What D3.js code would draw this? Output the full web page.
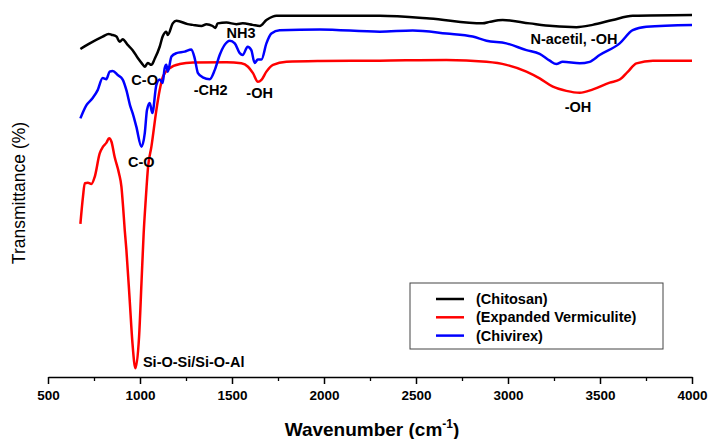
<!DOCTYPE html>
<html>
<head>
<meta charset="utf-8">
<script src="https://cdn.jsdelivr.net/npm/d3@7"></script>
<style>
    body { margin: 0; background: #fff; }
    svg { font-family: Arial, "Liberation Sans", sans-serif; }
</style>
</head>
<body>
<div id="chart"></div>
<script>

// spectra: [wavenumber, transmittance (arbitrary units)]
var chitosan = [
    [676, 87.0], [727, 88.5], [797, 90.3], [830, 91.0], [845, 90.8], [872, 90.3],
    [890, 88.9], [906, 89.6], [933, 88.1], [960, 86.7], [988, 84.6], [1010, 83.2],
    [1026, 82.3], [1042, 83.3], [1062, 82.8], [1080, 84.4], [1107, 87.6], [1123, 90.3],
    [1143, 91.6], [1151, 90.7], [1178, 93.8], [1198, 94.5], [1259, 93.6], [1286, 93.4],
    [1334, 93.1], [1361, 93.6], [1395, 93.1], [1410, 92.6], [1422, 93.8], [1470, 94.0],
    [1524, 93.6], [1558, 93.8], [1612, 93.4], [1651, 93.1], [1687, 94.7], [1721, 95.6],
    [1741, 95.8], [1977, 95.8], [2303, 95.8], [2574, 95.1], [2862, 93.8], [2900, 94.2],
    [2971, 94.7], [3118, 93.8], [3243, 93.1], [3372, 92.8], [3460, 93.4], [3569, 94.7],
    [3678, 95.8], [4000, 96.0]
];

var vermiculite = [
    [676, 40.6], [690, 47.8], [700, 51.4], [717, 51.5], [736, 51.2], [754, 53.1],
    [781, 59.3], [799, 61.1], [817, 62.1], [832, 63.3], [845, 62.4], [862, 58.4],
    [886, 54.0], [899, 50.5], [908, 45.2], [917, 39.0], [926, 33.7], [944, 20.4],
    [959, 9.0], [975, 2.3], [995, 10.7], [1008, 24.9], [1020, 38.2], [1031, 46.9],
    [1044, 55.8], [1062, 61.1], [1089, 70.8], [1107, 76.1], [1125, 79.7], [1161, 81.9],
    [1216, 83.0], [1288, 83.4], [1470, 83.5], [1551, 83.2], [1587, 82.3], [1614, 80.6],
    [1641, 78.3], [1660, 78.8], [1687, 81.0], [1723, 82.8], [1796, 83.6], [1977, 83.8],
    [2303, 83.9], [2665, 84.1], [2883, 83.6], [2991, 82.8], [3100, 81.0], [3172, 79.2],
    [3244, 77.0], [3317, 75.9], [3390, 75.4], [3462, 76.3], [3553, 78.1], [3607, 78.9],
    [3652, 81.0], [3698, 83.2], [3788, 83.9], [4000, 83.9]
];

var chivirex = [
    [676, 68.6], [709, 72.1], [743, 74.0], [770, 76.1], [797, 79.3], [817, 79.0],
    [835, 81.0], [852, 81.2], [879, 80.1], [906, 78.9], [926, 76.1], [948, 71.7],
    [960, 70.0], [980, 66.4], [1008, 61.1], [1026, 64.7], [1038, 70.8], [1053, 72.7],
    [1067, 70.0], [1089, 77.5], [1107, 78.9], [1123, 78.0], [1134, 81.9], [1143, 82.8],
    [1151, 81.0], [1171, 85.0], [1198, 85.9], [1243, 86.3], [1279, 86.9], [1297, 84.6],
    [1315, 80.6], [1341, 79.5], [1379, 79.0], [1406, 81.4], [1433, 85.4], [1460, 88.1],
    [1488, 89.2], [1515, 88.5], [1542, 85.9], [1558, 85.4], [1585, 87.6], [1605, 86.7],
    [1623, 83.3], [1640, 84.2], [1660, 84.2], [1687, 88.5], [1714, 91.1], [1759, 92.0],
    [1977, 92.2], [2303, 91.6], [2482, 91.9], [2665, 91.1], [2808, 90.3], [2883, 89.2],
    [2991, 88.5], [3100, 86.7], [3172, 85.7], [3227, 83.9], [3263, 83.0], [3297, 83.6],
    [3390, 83.2], [3444, 83.6], [3498, 85.4], [3607, 88.5], [3678, 92.0], [3752, 92.9],
    [4000, 93.4]
];

var seriesNames = ["(Chitosan)", "(Expanded Vermiculite)", "(Chivirex)"];
var seriesColors = ["#000000", "#ff0000", "#0000ff"];
var xTicks = [500, 1000, 1500, 2000, 2500, 3000, 3500, 4000];

// band labels: [wavenumber at left edge, transmittance at baseline, text]
var bandLabels = [
    [953, 77.5, "C-O"],
    [935, 55.8, "C-O"],
    [1292, 74.8, "-CH2"],
    [1470, 89.8, "NH3"],
    [1578, 74.0, "-OH"],
    [3122, 88.2, "N-acetil, -OH"],
    [3308, 70.4, "-OH"],
    [1016, 2.7, "Si-O-Si/Si-O-Al"]
];

var width = 711, height = 439;
var margin = {top: 0, right: 19, bottom: 62, left: 48};

var x = d3.scaleLinear()
    .domain([500, 4000])
    .range([margin.left, width - margin.right]);

var y = d3.scaleLinear()
    .domain([0, 100])
    .range([height - margin.bottom, margin.top]);

var svg = d3.select("#chart").append("svg")
    .attr("width", width)
    .attr("height", height);

// bottom axis only, with minor ticks
var minor = d3.range(750, 4000, 500);

svg.append("g")
    .attr("transform", "translate(0," + y(0) + ")")
    .call(d3.axisBottom(x).tickValues(minor).tickSize(4).tickFormat(""))
    .call(function(g) { g.select(".domain").remove(); })
    .selectAll("line").attr("stroke-width", 1.3);

var xAxis = svg.append("g")
    .attr("transform", "translate(0," + y(0) + ")")
    .call(d3.axisBottom(x).tickValues(xTicks).tickFormat(d3.format("d"))
        .tickSize(7).tickSizeOuter(0).tickPadding(6));

xAxis.select(".domain").attr("stroke-width", 1.5);
xAxis.selectAll("line").attr("stroke-width", 1.5);
xAxis.selectAll("text")
    .attr("font-size", 13.5)
    .attr("font-weight", "bold")
    .attr("fill", "#000");

// titles
var xTitle = svg.append("text")
    .attr("x", 372)
    .attr("y", 436)
    .attr("text-anchor", "middle")
    .attr("font-size", 19)
    .attr("font-weight", "bold");
xTitle.append("tspan").text("Wavenumber (cm");
xTitle.append("tspan").attr("font-size", 12).attr("dy", -8).text("-1");
xTitle.append("tspan").attr("dy", 8).text(")");

svg.append("text")
    .attr("transform", "translate(25,193) rotate(-90)")
    .attr("text-anchor", "middle")
    .attr("font-size", 17.5)
    .text("Transmittance (%)");

// spectra
var line = d3.line()
    .x(function(d) { return x(d[0]); })
    .y(function(d) { return y(d[1]); })
    .curve(d3.curveMonotoneX);

var allSeries = [chitosan, vermiculite, chivirex];

svg.selectAll("path.spectrum")
    .data(allSeries)
    .enter().append("path")
    .attr("class", "spectrum")
    .attr("d", line)
    .attr("fill", "none")
    .attr("stroke", function(d, i) { return seriesColors[i]; })
    .attr("stroke-width", 2.5)
    .attr("stroke-linejoin", "round");

// band annotations
svg.selectAll("text.band")
    .data(bandLabels)
    .enter().append("text")
    .attr("class", "band")
    .attr("x", function(d) { return x(d[0]); })
    .attr("y", function(d) { return y(d[1]); })
    .attr("font-size", 14.5)
    .attr("font-weight", "bold")
    .text(function(d) { return d[2]; });

// legend
var legend = svg.append("g").attr("transform", "translate(410,283)");

legend.append("rect")
    .attr("width", 253)
    .attr("height", 66)
    .attr("fill", "#fff")
    .attr("stroke", "#444")
    .attr("stroke-width", 1);

var rows = legend.selectAll("g.row")
    .data(seriesNames)
    .enter().append("g")
    .attr("class", "row")
    .attr("transform", function(d, i) { return "translate(0," + (16 + i * 18.3) + ")"; });

rows.append("line")
    .attr("x1", 26).attr("x2", 54)
    .attr("stroke", function(d, i) { return seriesColors[i]; })
    .attr("stroke-width", 2.5);

rows.append("text")
    .attr("x", 66)
    .attr("dy", "0.35em")
    .attr("font-size", 14.5)
    .attr("font-weight", "bold")
    .text(function(d) { return d; });

</script>
</body>
</html>
